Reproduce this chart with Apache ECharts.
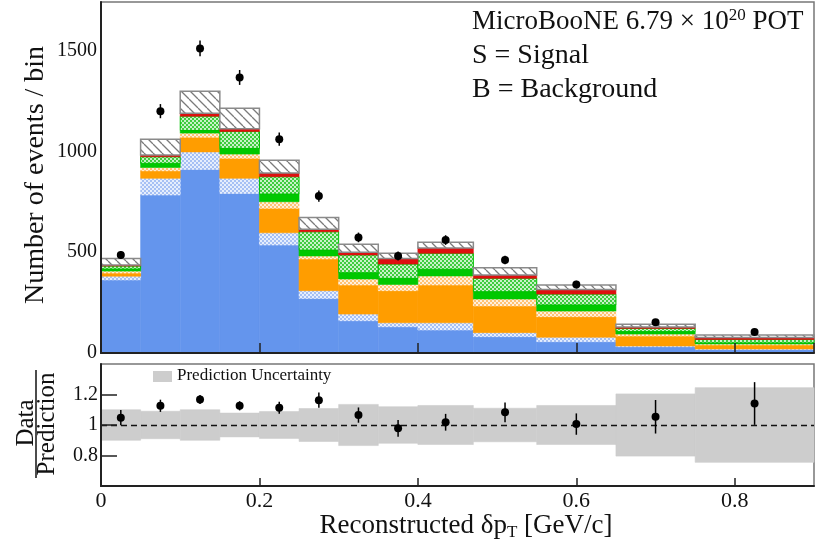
<!DOCTYPE html>
<html><head><meta charset="utf-8">
<script src="https://cdn.jsdelivr.net/npm/echarts@6/dist/echarts.min.js"></script>
<style>html,body{margin:0;padding:0;background:#fff}#c{width:816px;height:546px}</style>
</head><body><div id="c"></div>
<script>
// ---- data ----
const binEdges = [0, 0.05, 0.1, 0.15, 0.2, 0.25, 0.3, 0.35, 0.4, 0.47, 0.55, 0.65, 0.75, 0.9];
// stacked components, bottom to top (events per bin)
const blueSolid    = [362, 783, 910, 791, 535, 270, 160, 130, 114, 81, 56, 31, 17];
const blueDotted   = [19, 83, 87, 75, 61, 39, 33, 20, 36, 20, 22, 4, 3];
const orangeSolid  = [15, 37, 73, 99, 121, 157, 144, 159, 187, 132, 102, 49, 20];
const orangeDotted = [10, 17, 20, 21, 33, 15, 30, 31, 45, 35, 28, 10, 5];
const greenSolid   = [10, 20, 13, 28, 38, 29, 31, 30, 33, 36, 30, 12, 5];
const greenDotted  = [15, 33, 71, 84, 86, 91, 88, 71, 79, 66, 54, 16, 17];
const redLayer     = [5, 8, 15, 14, 18, 13, 14, 27, 26, 17, 23, 7, 10];
const grayHatched  = [32, 78, 109, 101, 64, 58, 39, 26, 29, 36, 22, 13, 12];
// data points
const dataCounts = [486, 1199, 1510, 1366, 1060, 778, 573, 481, 560, 461, 340, 152, 104];
const dataErrors = [20, 35, 39, 37, 33, 28, 24, 22, 24, 21, 18, 12, 10];
// ratio panel
const ratioValues = [1.048, 1.126, 1.167, 1.126, 1.113, 1.163, 1.065, 0.978, 1.018, 1.083, 1.006, 1.054, 1.141];
const ratioErrors = [0.05, 0.04, 0.03, 0.03, 0.04, 0.05, 0.05, 0.055, 0.055, 0.065, 0.07, 0.11, 0.14];
const predUncertainty = [0.10, 0.09, 0.10, 0.078, 0.088, 0.108, 0.135, 0.12, 0.128, 0.11, 0.128, 0.204, 0.245];
const yTicksTop = [0, 500, 1000, 1500];
const yTicksRatio = [0.8, 1, 1.2];
const xTicks = [0, 0.2, 0.4, 0.6, 0.8];

// ---- styles ----
const SERIF = 'Liberation Serif';
function makePattern(size, draw) {
  const c = document.createElement('canvas'); c.width = c.height = size;
  const g = c.getContext('2d'); draw(g, size);
  return { image: c, repeat: 'repeat' };
}
const hatchGray = makePattern(9, (g, s) => {
  g.fillStyle = '#fff'; g.fillRect(0, 0, s, s);
  g.strokeStyle = '#7a7a7a'; g.lineWidth = 1.3; g.beginPath();
  for (const o of [-s, 0, s]) { g.moveTo(o, 0); g.lineTo(o + s, s); }
  g.stroke();
});
function dots(bg, fg) {
  return makePattern(4, (g, s) => {
    g.fillStyle = bg; g.fillRect(0, 0, s, s);
    g.fillStyle = fg; g.fillRect(0, 0, 2, 2); g.fillRect(2, 2, 2, 2);
  });
}
const layers = [
  { vals: blueSolid, fill: '#6495ed' },
  { vals: blueDotted, fill: dots('#a6c0f4', '#e6eefd') },
  { vals: orangeSolid, fill: '#ff9d00' },
  { vals: orangeDotted, fill: dots('#ffc273', '#fff0dc') },
  { vals: greenSolid, fill: '#00c800' },
  { vals: greenDotted, fill: dots('#3fcc3f', '#c8f2c8'), stroke: '#00c000', lw: 1 },
  { vals: redLayer, fill: '#dd1010' },
  { vals: grayHatched, fill: hatchGray, stroke: '#8a8a8a', lw: 1.5 }
];

const nb = binEdges.length - 1;
const centers = [];
for (let i = 0; i < nb; i++) centers.push((binEdges[i] + binEdges[i + 1]) / 2);
const base = new Array(nb).fill(0);
const series = [];
layers.forEach((L, li) => {
  const items = [];
  for (let i = 0; i < nb; i++) {
    items.push([binEdges[i], binEdges[i + 1], base[i], base[i] + L.vals[i]]);
    base[i] += L.vals[i];
  }
  series.push({
    type: 'custom', xAxisIndex: 0, yAxisIndex: 0, z: 2 + li * 0.01,
    data: items, silent: true,
    renderItem: (params, api) => {
      const p0 = api.coord([api.value(0), api.value(3)]);
      const p1 = api.coord([api.value(1), api.value(2)]);
      return {
        type: 'rect',
        shape: { x: p0[0], y: p0[1], width: p1[0] - p0[0], height: p1[1] - p0[1] },
        style: L.stroke ? { fill: L.fill, stroke: L.stroke, lineWidth: L.lw }
                        : { fill: L.fill, stroke: L.fill, lineWidth: 0.6 }
      };
    }
  });
});

function pointRender(params, api) {
  const x = api.value(0), v = api.value(1), e = api.value(2);
  const c = api.coord([x, v]), lo = api.coord([x, v - e]), hi = api.coord([x, v + e]);
  return {
    type: 'group', children: [
      { type: 'line', shape: { x1: c[0], y1: lo[1], x2: c[0], y2: hi[1] }, style: { stroke: '#000', lineWidth: 1.5 } },
      { type: 'circle', shape: { cx: c[0], cy: c[1], r: 4 }, style: { fill: '#000' } }
    ]
  };
}
series.push({
  type: 'custom', xAxisIndex: 0, yAxisIndex: 0, z: 5, silent: true,
  data: centers.map((x, i) => [x, dataCounts[i], dataErrors[i]]),
  renderItem: pointRender
});
// ratio band
series.push({
  type: 'custom', xAxisIndex: 1, yAxisIndex: 1, z: 2, silent: true,
  data: predUncertainty.map((u, i) => [binEdges[i], binEdges[i + 1], 1 - u, 1 + u]),
  renderItem: (params, api) => {
    const p0 = api.coord([api.value(0), api.value(3)]);
    const p1 = api.coord([api.value(1), api.value(2)]);
    return { type: 'rect', shape: { x: p0[0], y: p0[1], width: p1[0] - p0[0], height: p1[1] - p0[1] },
      style: { fill: '#cdcdcd', stroke: '#cdcdcd', lineWidth: 0.6 } };
  },
  markLine: {
    silent: true, symbol: 'none', label: { show: false },
    lineStyle: { color: '#111', type: [6, 4], width: 1.3 },
    data: [{ yAxis: 1 }]
  }
});
series.push({
  type: 'custom', xAxisIndex: 1, yAxisIndex: 1, z: 6, silent: true,
  data: centers.map((x, i) => [x, ratioValues[i], ratioErrors[i]]),
  renderItem: pointRender
});

const axisLine = { show: true, lineStyle: { color: '#222', width: 2 } };
const option = {
  animation: false,
  backgroundColor: '#fff',
  grid: [
    { left: 101, right: 2, top: 2, height: 351, show: true, borderColor: '#777', borderWidth: 1.5, backgroundColor: 'transparent' },
    { left: 101, right: 2, top: 364, height: 122, show: true, borderColor: '#777', borderWidth: 1.5, backgroundColor: 'transparent' }
  ],
  xAxis: [
    { type: 'value', gridIndex: 0, min: 0, max: 0.9, interval: 0.2, z: 10,
      axisLine: axisLine, axisLabel: { show: false },
      axisTick: { show: true, inside: true, length: 10, lineStyle: { color: '#222', width: 1.5 } },
      splitLine: { show: false } },
    { type: 'value', gridIndex: 1, min: 0, max: 0.9, interval: 0.2, z: 10,
      axisLine: axisLine,
      axisTick: { show: true, inside: true, length: 8, lineStyle: { color: '#222', width: 1.5 } },
      axisLabel: { show: true, margin: 4, fontFamily: SERIF, fontSize: 22, color: '#111', showMaxLabel: false,
        formatter: v => (xTicks.some(t => Math.abs(t - v) < 1e-6) ? String(+v.toFixed(1)) : '') },
      splitLine: { show: false } }
  ],
  yAxis: [
    { type: 'value', gridIndex: 0, min: 0, max: 1740, interval: 500, z: 10,
      axisLine: axisLine, axisTick: { show: false },
      axisLabel: { margin: 4, fontFamily: SERIF, fontSize: 20, color: '#111', showMaxLabel: false,
        formatter: v => (yTicksTop.includes(v) ? String(v) : '') },
      splitLine: { show: false } },
    { type: 'value', gridIndex: 1, min: 0.6, max: 1.4, interval: 0.2, z: 10,
      axisLine: axisLine,
      axisTick: { show: true, inside: true, length: 16, lineStyle: { color: '#222', width: 1.5 } },
      axisLabel: { margin: 3, fontFamily: SERIF, fontSize: 20, color: '#111', showMaxLabel: false, showMinLabel: false,
        formatter: v => (yTicksRatio.some(t => Math.abs(t - v) < 1e-6) ? String(+v.toFixed(1)) : '') },
      splitLine: { show: false } }
  ],
  graphic: [
    { type: 'text', x: 36, y: 175, rotation: Math.PI / 2,
      style: { text: 'Number of events / bin', font: '28px ' + SERIF, fill: '#111', align: 'center', verticalAlign: 'middle' } },
    { type: 'text', x: 26, y: 423, rotation: Math.PI / 2,
      style: { text: 'Data', font: '25px ' + SERIF, fill: '#111', align: 'center', verticalAlign: 'middle' } },
    { type: 'line', shape: { x1: 36, y1: 370, x2: 36, y2: 478 }, style: { stroke: '#111', lineWidth: 1.5 } },
    { type: 'text', x: 47, y: 424, rotation: Math.PI / 2,
      style: { text: 'Prediction', font: '25px ' + SERIF, fill: '#111', align: 'center', verticalAlign: 'middle' } },
    { type: 'text', x: 466, y: 526,
      style: { text: '{a|Reconstructed δp}{s|T}{a| [GeV/c]}', align: 'center', verticalAlign: 'middle', fill: '#111',
        rich: { a: { fontFamily: SERIF, fontSize: 27, lineHeight: 30, verticalAlign: 'middle' },
                s: { fontFamily: SERIF, fontSize: 17, lineHeight: 16, verticalAlign: 'bottom' } } } },
    { type: 'rect', shape: { x: 153, y: 371, width: 19, height: 11 }, style: { fill: '#cdcdcd' } },
    { type: 'text', x: 177, y: 376,
      style: { text: 'Prediction Uncertainty', font: '17px ' + SERIF, fill: '#111', align: 'left', verticalAlign: 'middle' } },
    { type: 'text', x: 472, y: 22,
      style: { text: '{a|MicroBooNE 6.79 × 10}{p|20}{a| POT}', align: 'left', verticalAlign: 'middle', fill: '#111',
        rich: { a: { fontFamily: SERIF, fontSize: 27, lineHeight: 30, verticalAlign: 'middle' },
                p: { fontFamily: SERIF, fontSize: 17, lineHeight: 17, verticalAlign: 'top' } } } },
    { type: 'text', x: 472, y: 56,
      style: { text: 'S = Signal', font: '28px ' + SERIF, fill: '#111', align: 'left', verticalAlign: 'middle' } },
    { type: 'text', x: 472, y: 90,
      style: { text: 'B = Background', font: '28px ' + SERIF, fill: '#111', align: 'left', verticalAlign: 'middle' } }
  ],
  series: series
};
const chart = echarts.init(document.getElementById('c'));
chart.setOption(option);
</script>
</body></html>
